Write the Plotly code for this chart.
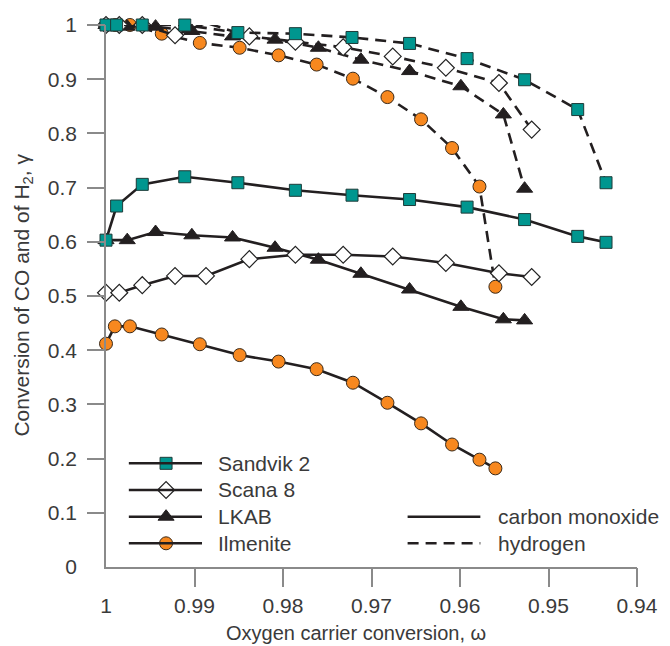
import plotly.graph_objects as go

# ---------------- data ----------------
sandvik_x = [1.0, 0.9988, 0.9959, 0.9911, 0.9851, 0.9786, 0.9722, 0.9657, 0.9592, 0.9527, 0.9467, 0.9435]
sandvik_co = [0.603, 0.666, 0.706, 0.720, 0.709, 0.695, 0.686, 0.678, 0.664, 0.641, 0.610, 0.599]
sandvik_h2 = [1.0, 1.0, 1.0, 1.0, 0.986, 0.984, 0.977, 0.966, 0.938, 0.899, 0.844, 0.709]

scana_x = [1.0, 0.9985, 0.9959, 0.9922, 0.9887, 0.9838, 0.9786, 0.9732, 0.9676, 0.9616, 0.9556, 0.9519]
scana_co = [0.506, 0.506, 0.520, 0.537, 0.537, 0.568, 0.576, 0.576, 0.573, 0.561, 0.542, 0.535]
scana_h2 = [1.0, 1.0, 1.0, 0.981, 1.004, 0.979, 0.969, 0.959, 0.942, 0.921, 0.893, 0.807]

lkab_x = [1.0, 0.9976, 0.9944, 0.9903, 0.9857, 0.9809, 0.9760, 0.9712, 0.9657, 0.9599, 0.9551, 0.9527]
lkab_co = [0.603, 0.603, 0.618, 0.612, 0.608, 0.589, 0.567, 0.541, 0.512, 0.480, 0.457, 0.455]
lkab_h2 = [1.0, 0.997, 0.997, 0.989, 0.979, 0.973, 0.958, 0.936, 0.915, 0.887, 0.835, 0.698]

ilmenite_x = [1.0, 0.9990, 0.9973, 0.9937, 0.9894, 0.9849, 0.9805, 0.9762, 0.9721, 0.9682, 0.9644, 0.9609, 0.9578, 0.9560]
ilmenite_co = [0.412, 0.444, 0.444, 0.429, 0.411, 0.391, 0.379, 0.365, 0.340, 0.303, 0.265, 0.226, 0.198, 0.182]
ilmenite_h2 = [1.0, 1.0, 1.0, 0.984, 0.967, 0.958, 0.944, 0.927, 0.901, 0.867, 0.826, 0.773, 0.702, 0.517]

x_ticks = [1.0, 0.99, 0.98, 0.97, 0.96, 0.95, 0.94]
x_ticktext = ["1", "0.99", "0.98", "0.97", "0.96", "0.95", "0.94"]
y_ticks = [0, 0.1, 0.2, 0.3, 0.4, 0.5, 0.6, 0.7, 0.8, 0.9, 1.0]
y_ticktext = ["0", "0.1", "0.2", "0.3", "0.4", "0.5", "0.6", "0.7", "0.8", "0.9", "1"]

materials = ["Sandvik 2", "Scana 8", "LKAB", "Ilmenite"]
gas_labels = ["carbon monoxide", "hydrogen"]

# ---------------- styles ----------------
FONT = "Liberation Sans, Arial, sans-serif"
TXT = "#3a3a3a"
LINE = "#231F20"
AX = "#8a8a8a"
FS = 21

styles = {
    "Sandvik 2": dict(symbol="square", size=12, color="#00968F", line=dict(color="#1d3b39", width=1)),
    "Scana 8": dict(symbol="diamond", size=13, color="white", line=dict(color="#222222", width=1.2)),
    "LKAB": dict(symbol="triangle-up", size=14, color=LINE, line=dict(color=LINE, width=1)),
    "Ilmenite": dict(symbol="circle", size=13, color="#F7881F", line=dict(color="#3a2a1a", width=1)),
}

series = {
    "Sandvik 2": (sandvik_x, sandvik_co, sandvik_h2),
    "Scana 8": (scana_x, scana_co, scana_h2),
    "LKAB": (lkab_x, lkab_co, lkab_h2),
    "Ilmenite": (ilmenite_x, ilmenite_co, ilmenite_h2),
}

fig = go.Figure()

draw_order = ["Ilmenite", "LKAB", "Scana 8", "Sandvik 2"]
for name in draw_order:
    xs, co, h2 = series[name]
    fig.add_trace(go.Scatter(x=xs, y=h2, mode="lines+markers", name=name + " H2",
                             line=dict(color=LINE, width=2.6, dash="11px,7px"),
                             marker=styles[name], cliponaxis=False, showlegend=False))
    fig.add_trace(go.Scatter(x=xs, y=co, mode="lines+markers", name=name + " CO",
                             line=dict(color=LINE, width=2.6),
                             marker=styles[name], cliponaxis=False, showlegend=False))

# tick-mark-only overlay axes (no tick at the origin corners)
fig.add_trace(go.Scatter(x=[None], y=[None], xaxis="x2", yaxis="y2", showlegend=False, hoverinfo="skip"))

# ---------------- manual legend ----------------
leg_rows = [0.1913, 0.1421, 0.0928, 0.0437]
leg_x0, leg_xm, leg_x1, leg_tx = 0.043, 0.1131, 0.1808, 0.2066
shapes = []
annotations = []
for name, ry in zip(materials, leg_rows):
    shapes.append(dict(type="line", xref="paper", yref="paper", x0=leg_x0, x1=leg_x1, y0=ry, y1=ry,
                       line=dict(color=LINE, width=2.6)))
    fig.add_trace(go.Scatter(x=[leg_xm], y=[ry], xaxis="x3", yaxis="y3", mode="markers",
                             marker=styles[name], showlegend=False, hoverinfo="skip", cliponaxis=False))
    annotations.append(dict(xref="paper", yref="paper", x=leg_tx, y=ry, text=name, showarrow=False,
                            xanchor="left", yanchor="middle", font=dict(family=FONT, size=FS, color=TXT)))

gas_rows = [0.0928, 0.0437]
gx0, gx1, gtx = 0.568, 0.705, 0.734
for lab, ry, dash in zip(gas_labels, gas_rows, ["solid", "11px,7px"]):
    shapes.append(dict(type="line", xref="paper", yref="paper", x0=gx0, x1=gx1, y0=ry, y1=ry,
                       line=dict(color=LINE, width=2.6, dash=dash)))
    annotations.append(dict(xref="paper", yref="paper", x=gtx, y=ry, text=lab, showarrow=False,
                            xanchor="left", yanchor="middle", font=dict(family=FONT, size=FS, color=TXT)))

# axis titles
annotations.append(dict(xref="paper", yref="paper", x=0.4705, y=-0.122, text="Oxygen carrier conversion, ω",
                        showarrow=False, xanchor="center", yanchor="middle",
                        font=dict(family=FONT, size=20, color=TXT)))
annotations.append(dict(xref="paper", yref="paper", x=-0.157, y=0.502, text="Conversion of CO and of H<sub>2</sub>, γ",
                        showarrow=False, xanchor="center", yanchor="middle", textangle=-90,
                        font=dict(family=FONT, size=FS, color=TXT)))

tickfont = dict(family=FONT, size=FS, color=TXT)
fig.update_layout(
    width=670, height=646,
    margin=dict(l=106, r=22, t=25, b=79),
    plot_bgcolor="white", paper_bgcolor="white",
    showlegend=False,
    shapes=shapes, annotations=annotations,
    xaxis=dict(range=[1.0, 0.94], tickvals=x_ticks, ticktext=x_ticktext, ticks="outside", ticklen=19,
               tickcolor="rgba(0,0,0,0)", showline=True, linecolor=AX, linewidth=1.5,
               showgrid=False, zeroline=False, tickfont=tickfont),
    yaxis=dict(range=[0, 1.0], tickvals=y_ticks, ticktext=y_ticktext, ticks="outside", ticklen=18,
               tickcolor="rgba(0,0,0,0)", showline=True, linecolor=AX, linewidth=1.5,
               showgrid=False, zeroline=False, tickfont=tickfont, ticklabelstandoff=5),
    xaxis2=dict(overlaying="x", range=[1.0, 0.94], tickvals=x_ticks[1:], ticks="outside", ticklen=19,
                tickcolor=AX, tickwidth=1.5, showticklabels=False, showline=False, showgrid=False,
                zeroline=False),
    yaxis2=dict(overlaying="y", range=[0, 1.0], tickvals=y_ticks[1:], ticks="outside", ticklen=18,
                tickcolor=AX, tickwidth=1.5, showticklabels=False, showline=False, showgrid=False,
                zeroline=False),
    xaxis3=dict(overlaying="x", range=[0, 1], visible=False),
    yaxis3=dict(overlaying="y", range=[0, 1], visible=False),
)

fig.write_html("out.html")
